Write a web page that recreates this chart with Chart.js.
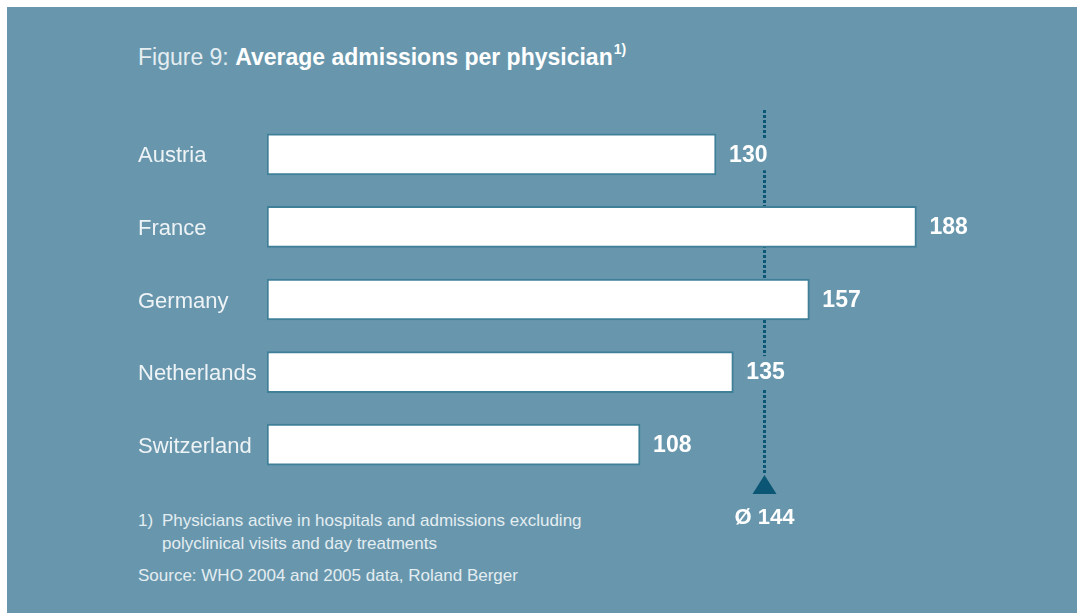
<!DOCTYPE html>
<html>
<head>
<meta charset="utf-8">
<script src="https://cdn.jsdelivr.net/npm/chart.js@4"></script>
<style>
  html, body { margin: 0; padding: 0; background: #fff; }
  #wrap { position: relative; width: 1077px; height: 613px; overflow: hidden; }
  #panel { position: absolute; left: 7px; top: 7px; right: 0; bottom: 0; background: #6897ad; }
  #chartBox { position: absolute; left: 0; top: 0; width: 1077px; height: 613px; }
  .txt { position: absolute; font-family: "Liberation Sans", Arial, sans-serif; color: #e4edf1; white-space: nowrap; }
  #title { left: 138px; top: 43px; font-size: 23px; line-height: 28px; }
  #title b { color: #fff; }
  #title sup { font-size: 14px; font-weight: bold; position: relative; top: -1px; left: 1px; color: #fff; vertical-align: top; line-height: 14px; }
  .note { font-size: 17px; line-height: 22px; }
</style>
</head>
<body>
<div id="wrap">
  <div id="panel"></div>
  <div class="txt" id="title">Figure 9: <b>Average admissions per physician</b><sup>1)</sup></div>
  <div class="txt note" style="left:138px; top:510px;">1)</div>
  <div class="txt note" style="left:162px; top:510px;">Physicians active in hospitals and admissions excluding</div>
  <div class="txt note" style="left:162px; top:533px;">polyclinical visits and day treatments</div>
  <div class="txt note" style="left:138px; top:565px;">Source: WHO 2004 and 2005 data, Roland Berger</div>
  <div id="chartBox"><canvas id="chart"></canvas></div>
</div>
<script>
// ---------------- Daten ----------------
const countries = ['Austria', 'France', 'Germany', 'Netherlands', 'Switzerland'];
const admissions = [130, 188, 157, 135, 108];
const averageAdmissions = 144;
const averageLabel = 'Ø 144';

const panelColor = '#6897ad';
const darkBlue = '#0b5674';
const fontFam = '"Liberation Sans", Arial, sans-serif';

// ---------------- Durchschnittslinie (hinter den Balken) ----------------
const avgLinePlugin = {
  id: 'avgLine',
  beforeDatasetsDraw(chart) {
    const ctx = chart.ctx;
    const x = Math.round(chart.scales.x.getPixelForValue(averageAdmissions)) + 0.5;
    ctx.save();
    ctx.strokeStyle = darkBlue;
    ctx.lineWidth = 3;
    ctx.setLineDash([3, 2]);
    ctx.beginPath();
    ctx.moveTo(x, 110);
    ctx.lineTo(x, 474);
    ctx.stroke();
    ctx.restore();
  },
  afterDraw(chart) {
    const ctx = chart.ctx;
    const x = Math.round(chart.scales.x.getPixelForValue(averageAdmissions)) + 0.5;
    ctx.save();
    ctx.fillStyle = darkBlue;
    ctx.beginPath();
    ctx.moveTo(x, 475);
    ctx.lineTo(x + 12, 494);
    ctx.lineTo(x - 12, 494);
    ctx.closePath();
    ctx.fill();
    ctx.fillStyle = '#fff';
    ctx.font = 'bold 22px ' + fontFam;
    ctx.textAlign = 'center';
    ctx.textBaseline = 'middle';
    ctx.fillText(averageLabel, x, 518);
    ctx.restore();
  }
};

// ---------------- Werte neben den Balken ----------------
const valueLabelPlugin = {
  id: 'valueLabels',
  afterDatasetsDraw(chart) {
    const ctx = chart.ctx;
    const meta = chart.getDatasetMeta(0);
    ctx.save();
    ctx.font = 'bold 23px ' + fontFam;
    ctx.textBaseline = 'middle';
    ctx.textAlign = 'left';
    meta.data.forEach((bar, i) => {
      const txt = String(admissions[i]);
      const w = ctx.measureText(txt).width;
      const tx = bar.x + 13;
      // Linie hinter dem Text ausblenden
      ctx.fillStyle = panelColor;
      ctx.fillRect(tx - 3, bar.y - 16, w + 6, 32);
      ctx.fillStyle = '#fff';
      ctx.fillText(txt, tx, bar.y + 1);
    });
    ctx.restore();
  }
};

new Chart(document.getElementById('chart'), {
  type: 'bar',
  data: {
    labels: countries,
    datasets: [{
      data: admissions,
      backgroundColor: '#ffffff',
      borderColor: '#3f7f98',
      borderWidth: 2,
      borderSkipped: false,
      barThickness: 41
    }]
  },
  options: {
    indexAxis: 'y',
    responsive: true,
    maintainAspectRatio: false,
    animation: false,
    layout: { padding: { left: 138, right: 50, top: 118, bottom: 132 } },
    plugins: {
      legend: { display: false },
      tooltip: { enabled: false }
    },
    scales: {
      x: { display: false, min: 0, max: 220 },
      y: {
        grid: { display: false, drawTicks: false },
        border: { display: false },
        afterFit(scale) { scale.width = 129; },
        ticks: {
          crossAlign: 'far',
          padding: 0,
          labelOffset: 2,
          color: '#eef3f6',
          font: { family: fontFam, size: 22 }
        }
      }
    }
  },
  plugins: [avgLinePlugin, valueLabelPlugin]
});
</script>
</body>
</html>
